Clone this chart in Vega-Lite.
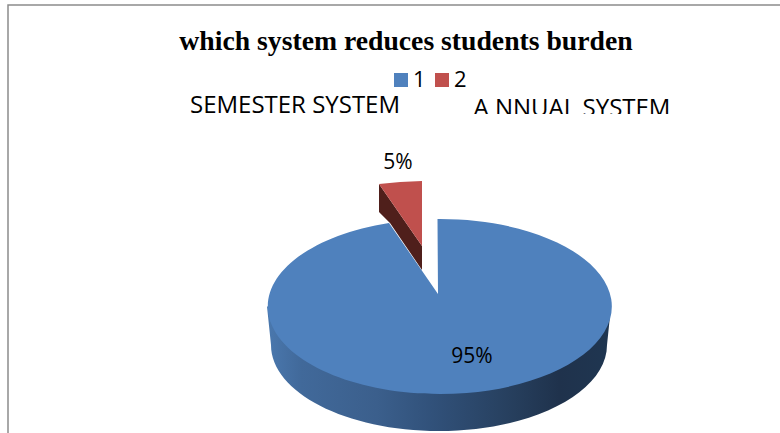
{"$schema":"https://vega.github.io/schema/vega-lite/v6.json","width":780,"height":433,"padding":0,"autosize":{"type":"none"},"background":"white","config":{"view":{"stroke":null}},"title":{"text":"which system reduces students burden","font":"Liberation Serif","fontWeight":"bold","fontSize":27.7,"color":"#000000","anchor":"middle","frame":"group","offset":0,"baseline":"alphabetic","dx":16,"dy":78},"data":{"values":[{"slice":"1","share":95,"label":"95%","system":"SEMESTER SYSTEM"},{"slice":"2","share":5,"label":"5%","system":"A NNUAL SYSTEM"}]},"resolve":{"scale":{"x":"independent","y":"independent","shape":"independent"}},"layer":[{"transform":[{"filter":"datum.slice==='1'"}],"mark":{"type":"point","filled":false,"shape":"M-382,217L-382,-211.5L390,-211.5","size":4,"stroke":"#8c8c8c","strokeWidth":1.5,"opacity":1}},{"transform":[{"filter":"datum.slice==='1'"}],"mark":{"type":"point","filled":true,"opacity":1,"strokeWidth":0,"shape":"M-123,90L-119,128.5A168 86 0 0 0 217,128.5L221,90Z","size":4,"fill":{"gradient":"linear","x1":0,"y1":0,"x2":1,"y2":0,"stops":[{"offset":0,"color":"#4a78ae"},{"offset":0.1,"color":"#41699a"},{"offset":0.32,"color":"#3b5f8c"},{"offset":0.48,"color":"#31517a"},{"offset":0.7,"color":"#27405f"},{"offset":0.85,"color":"#1f324c"},{"offset":1,"color":"#1f3651"}]}}},{"transform":[{"filter":"datum.slice==='2'"}],"mark":{"type":"point","filled":true,"opacity":1,"strokeWidth":0,"shape":"M-11,-32.5L32,29.5L32,53.5L0,6.5L-11,-4.5Z","size":4,"fill":"#4f1f1b"}},{"mark":{"type":"point","filled":true,"opacity":1,"strokeWidth":0},"encoding":{"color":{"field":"slice","type":"nominal","scale":{"domain":["1","2"],"range":["#4f81bd","#c0504d"]},"legend":{"title":null,"orient":"none","legendX":390,"legendY":69,"direction":"horizontal","columns":2,"symbolType":"square","symbolSize":196,"symbolStrokeWidth":0,"symbolOpacity":1,"labelFont":"Open Sans","labelFontSize":22,"labelColor":"#000000","labelOffset":1,"columnPadding":5,"padding":0}},"shape":{"field":"slice","type":"nominal","legend":null,"scale":{"domain":["1","2"],"range":["M47.5,2.5A172 87.5 0 1 1 -1,6.4L48,77.5Z","M-11,-32.5Q10,-35 32,-35.5L32,29.5Z"]}},"size":{"value":4}}},{"mark":{"type":"text","font":"Open Sans","fontSize":21,"color":"#000000","baseline":"middle","align":"center"},"encoding":{"text":{"field":"label"},"x":{"field":"slice","type":"nominal","axis":null,"scale":{"type":"point","padding":0,"domain":["1","2"],"range":[472,398]}},"y":{"field":"slice","type":"nominal","axis":null,"scale":{"type":"point","padding":0,"domain":["1","2"],"range":[357,163]}}}},{"mark":{"type":"text","font":"Open Sans","fontSize":24,"color":"#000000","baseline":"alphabetic","align":"center"},"encoding":{"text":{"field":"system"},"x":{"field":"slice","type":"nominal","axis":null,"scale":{"type":"point","padding":0,"domain":["1","2"],"range":[295,572]}},"y":{"field":"slice","type":"nominal","axis":null,"scale":{"type":"point","padding":0,"domain":["1","2"],"range":[113,116]}}}},{"transform":[{"filter":"datum.slice==='1'"}],"mark":{"type":"point","filled":true,"opacity":1,"strokeWidth":0,"fill":"white","size":4,"shape":"M60,-102.5L300,-102.5L300,-85L60,-85Z"}}]}
